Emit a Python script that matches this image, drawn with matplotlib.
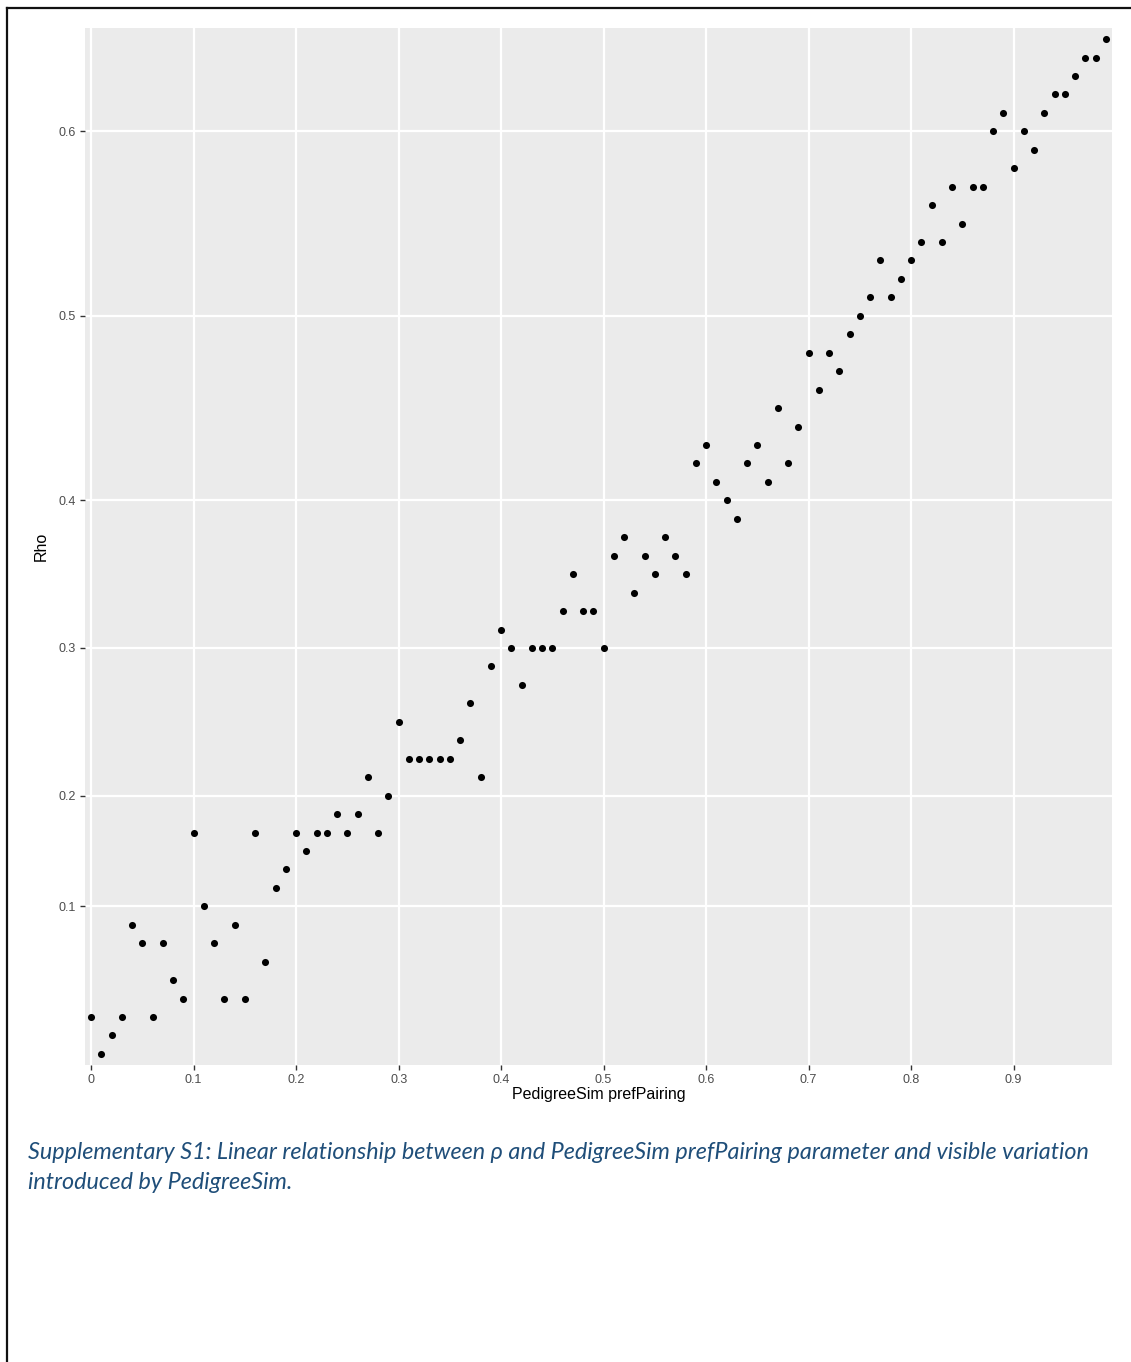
import numpy as np
import matplotlib
matplotlib.use("Agg")
from matplotlib import pyplot as plt
from matplotlib.lines import Line2D

# PedigreeSim prefPairing parameter (0.00 .. 0.99)
pref_pairing = [round(i / 100, 2) for i in range(100)]

# estimated rho for each prefPairing value (y axis is a discrete scale)
rho = [
    0.04, 0.02, 0.03, 0.04, 0.09, 0.08, 0.04, 0.08, 0.06, 0.05,
    0.17, 0.10, 0.08, 0.05, 0.09, 0.05, 0.17, 0.07, 0.11, 0.13,
    0.17, 0.15, 0.17, 0.17, 0.19, 0.17, 0.19, 0.21, 0.17, 0.20,
    0.25, 0.22, 0.22, 0.22, 0.22, 0.22, 0.23, 0.26, 0.21, 0.29,
    0.31, 0.30, 0.28, 0.30, 0.30, 0.30, 0.32, 0.35, 0.32, 0.32,
    0.30, 0.36, 0.38, 0.33, 0.36, 0.35, 0.38, 0.36, 0.35, 0.42,
    0.43, 0.41, 0.40, 0.39, 0.42, 0.43, 0.41, 0.45, 0.42, 0.44,
    0.48, 0.46, 0.48, 0.47, 0.49, 0.50, 0.51, 0.53, 0.51, 0.52,
    0.53, 0.54, 0.56, 0.54, 0.57, 0.55, 0.57, 0.57, 0.60, 0.61,
    0.58, 0.60, 0.59, 0.61, 0.62, 0.62, 0.63, 0.64, 0.64, 0.65,
]

y_breaks = [0.1, 0.2, 0.3, 0.4, 0.5, 0.6]
x_breaks = [round(i / 10, 1) for i in range(10)]

caption = ("Supplementary S1: Linear relationship between \u03c1 and PedigreeSim prefPairing parameter and visible variation\n"
           "introduced by PedigreeSim.")

# discrete y scale: every distinct rho value gets one slot
levels = sorted(set(rho))
y_pos = [levels.index(r) for r in rho]

fig = plt.figure(figsize=(11.31, 13.62), dpi=100)
ax = fig.add_axes([85 / 1131, 1 - 1065 / 1362, 1027 / 1131, 1037 / 1362])
ax.set_facecolor("#EBEBEB")

ax.scatter(pref_pairing, y_pos, s=26, color="black", linewidths=0, zorder=3)

ax.set_xlim(-0.006, 0.996)
ax.set_ylim(-0.6, len(levels) - 0.4)
ax.set_xticks(x_breaks)
ax.set_xticklabels([f"{b:g}" for b in x_breaks])
ax.set_yticks([levels.index(b) for b in y_breaks])
ax.set_yticklabels([f"{b:g}" for b in y_breaks])

ax.grid(True, color="white", linewidth=1.6, zorder=1)
ax.set_axisbelow(True)
for s in ax.spines.values():
    s.set_visible(False)
ax.tick_params(length=3.5, width=1, color="#333333", labelcolor="#4D4D4D",
               labelsize=9, pad=3)
for lab in ax.get_xticklabels() + ax.get_yticklabels():
    lab.set_family("Liberation Sans")

ax.set_xlabel("PedigreeSim prefPairing", fontsize=11.5, family="Liberation Sans",
              labelpad=1)
ax.set_ylabel("Rho", fontsize=11.5, family="Liberation Sans", labelpad=7)

fig.text(28 / 1131, 1 - 1142 / 1362, caption, ha="left", va="top",
         fontsize=16.8, style="italic", family="Lato", color="#1F4E79",
         linespacing=1.55)

# page border (top and left edges)
fig.add_artist(Line2D([7 / 1131, 1.0], [1 - 8 / 1362] * 2, color="#111111",
                      linewidth=1.6, transform=fig.transFigure))
fig.add_artist(Line2D([7 / 1131] * 2, [0.0, 1 - 8 / 1362], color="#111111",
                      linewidth=1.6, transform=fig.transFigure))

fig.savefig("out.png", dpi=100)
